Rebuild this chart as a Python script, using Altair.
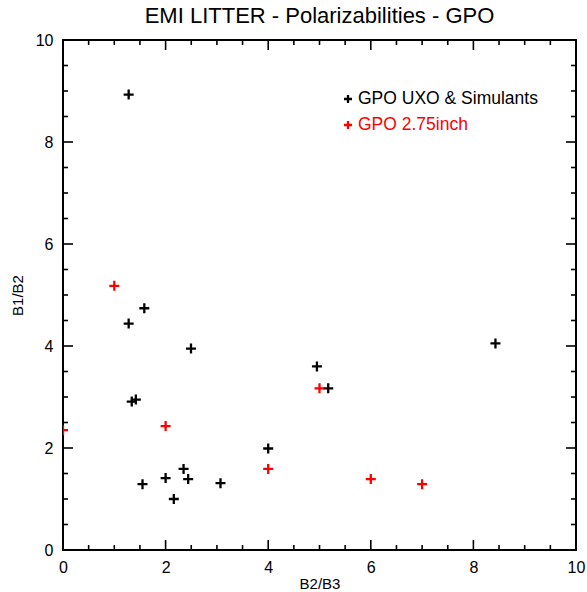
import altair as alt
import pandas as pd

# ---- data ----
uxo_x = [1.28, 1.28, 1.585, 2.495, 1.34, 1.42, 1.55, 2.0, 2.35, 2.44, 2.16, 3.07, 4.0, 4.95, 5.17, 8.43]
uxo_y = [8.93, 4.44, 4.74, 3.95, 2.91, 2.95, 1.29, 1.41, 1.59, 1.39, 1.0, 1.31, 1.99, 3.60, 3.17, 4.05]
gpo_x = [0.0, 1.0, 2.0, 4.0, 5.0, 6.0, 7.0]
gpo_y = [2.35, 5.18, 2.43, 1.59, 3.17, 1.39, 1.29]
series_names = ["GPO UXO & Simulants", "GPO 2.75inch"]
series_colors = ["black", "red"]
major_ticks = [0, 2, 4, 6, 8, 10]
minor_ticks = [0.5, 1, 1.5, 2.5, 3, 3.5, 4.5, 5, 5.5, 6.5, 7, 7.5, 8.5, 9, 9.5]

FONT = "Liberation Sans"
W, H = 513, 510
PLUS = "M-1,0L1,0M0,-1L0,1"

df = pd.concat([
    pd.DataFrame({"x": uxo_x, "y": uxo_y, "series": series_names[0]}),
    pd.DataFrame({"x": gpo_x, "y": gpo_y, "series": series_names[1]}),
])

xs = alt.Scale(domain=[0, 10], nice=False, zero=False)
ys = alt.Scale(domain=[0, 10], nice=False, zero=False)
axis_style = dict(tickSize=0, domain=False, grid=False, format="d", labelFlush=False,
                  labelFont=FONT, titleFont=FONT, labelFontSize=16, titleFontSize=15,
                  labelColor="black", titleColor="black", titleFontWeight="normal")
x_axis = alt.Axis(values=major_ticks, title="B2/B3", labelPadding=9, titlePadding=1, **axis_style)
y_axis = alt.Axis(values=major_ticks, title="B1/B2", labelPadding=10, titlePadding=10, **axis_style)

points = alt.Chart(df).mark_point(
    shape=PLUS, filled=False, strokeWidth=2.3, size=100, clip=True, opacity=1
).encode(
    x=alt.X("x:Q", scale=xs, axis=x_axis),
    y=alt.Y("y:Q", scale=ys, axis=y_axis),
    color=alt.Color("series:N", scale=alt.Scale(domain=series_names, range=series_colors), legend=None),
)


def tick_layer(vals, axis, side, length):
    d = pd.DataFrame({"v": vals})
    base = alt.Chart(d).mark_rule(color="black", strokeWidth=1.6)
    if axis == "x":
        if side == "bottom":
            ypos = dict(y=alt.value(H), y2=alt.value(H - length))
        else:
            ypos = dict(y=alt.value(0), y2=alt.value(length))
        return base.encode(x=alt.X("v:Q", scale=xs, axis=x_axis), **ypos)
    else:
        if side == "left":
            xpos = dict(x=alt.value(0), x2=alt.value(length))
        else:
            xpos = dict(x=alt.value(W), x2=alt.value(W - length))
        return base.encode(y=alt.Y("v:Q", scale=ys, axis=y_axis), **xpos)


ticks = []
for ax, sides in (("x", ("bottom", "top")), ("y", ("left", "right"))):
    for s in sides:
        ticks.append(tick_layer(major_ticks, ax, s, 10))
        ticks.append(tick_layer(minor_ticks, ax, s, 5))

leg_df = pd.DataFrame({"name": series_names, "color": series_colors})
legend_layers = []
for i, (name, col) in enumerate(zip(series_names, series_colors)):
    row = alt.Chart(leg_df).transform_filter(alt.datum.name == name)
    ypix = 59 + i * 26
    legend_layers.append(row.mark_point(
        shape=PLUS, filled=False, strokeWidth=2.3, size=64, color=col, opacity=1
    ).encode(x=alt.value(285), y=alt.value(ypix)))
    legend_layers.append(row.mark_text(
        align="left", baseline="middle", font=FONT, fontSize=17.5, color=col
    ).encode(x=alt.value(295), y=alt.value(ypix), text="name:N"))

chart = alt.layer(points, *ticks, *legend_layers).properties(
    width=W, height=H,
    background="white",
    title=alt.Title("EMI LITTER - Polarizabilities - GPO", fontSize=22, font=FONT,
                    fontWeight="normal", color="black", offset=4),
    padding={"left": 63, "top": 40, "right": 11, "bottom": 42},
    autosize=alt.AutoSizeParams(type="none"),
).configure_view(
    stroke="black", strokeWidth=2
)

chart.save("out.html", embed_options={"renderer": "svg", "actions": False})
